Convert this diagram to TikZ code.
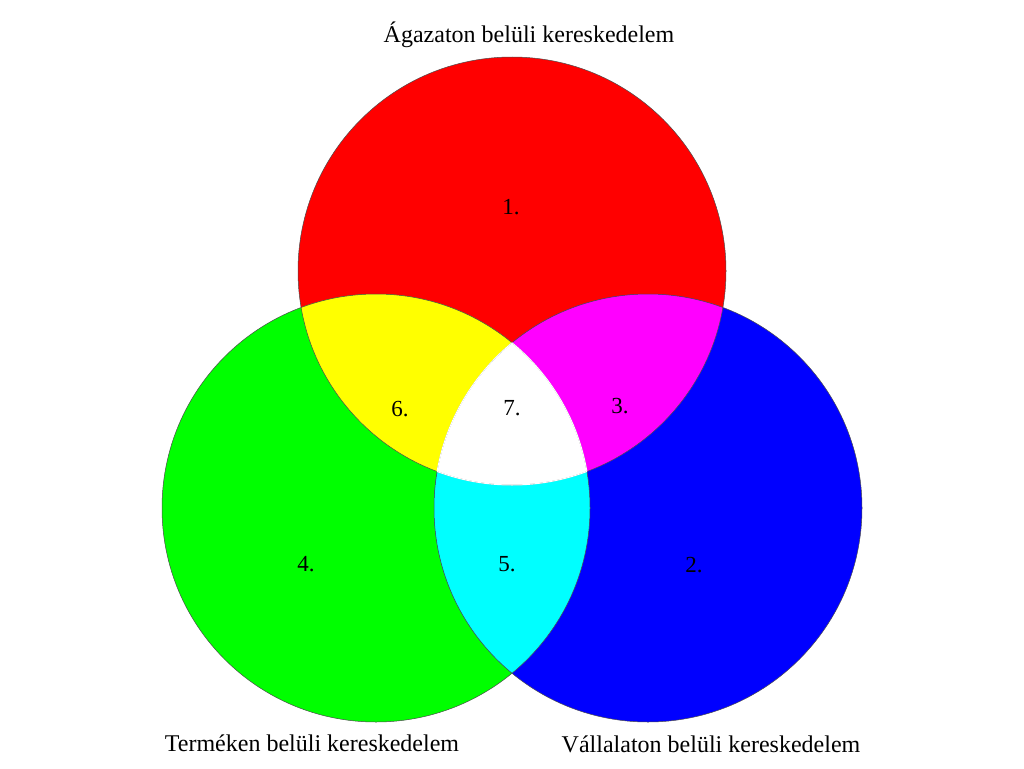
\documentclass[tikz,border=0pt]{standalone}
\usepackage{fontspec}
\setmainfont{Liberation Serif}
\definecolor{cRed}{RGB}{255,0,0}
\definecolor{cGreen}{RGB}{0,255,0}
\definecolor{cBlue}{RGB}{0,0,255}
\definecolor{cYellow}{RGB}{255,255,0}
\definecolor{cMagenta}{RGB}{255,0,255}
\definecolor{cCyan}{RGB}{0,255,255}
\begin{document}
\begin{tikzpicture}[x=1pt,y=-1pt,
  lbl/.style={inner sep=0pt,font=\fontsize{24}{28}\selectfont},
  num/.style={inner sep=0pt,font=\fontsize{23}{27}\selectfont},
  edge/.style={draw=black!70,line width=0.5pt}]
\useasboundingbox (0,0) rectangle (1024,768);
\def\R{214}
\coordinate (cr) at (512,271);
\coordinate (cg) at (376,508);
\coordinate (cb) at (648,508);
\fill[cRed] (cr) circle[radius=\R];
\fill[cGreen] (cg) circle[radius=\R];
\fill[cBlue] (cb) circle[radius=\R];
\begin{scope}
  \clip (cr) circle[radius=\R];
  \fill[cYellow] (cg) circle[radius=\R];
  \fill[cMagenta] (cb) circle[radius=\R];
\end{scope}
\begin{scope}
  \clip (cg) circle[radius=\R];
  \fill[cCyan] (cb) circle[radius=\R];
\end{scope}
\begin{scope}
  \clip (cr) circle[radius=\R];
  \clip (cg) circle[radius=\R];
  \fill[white] (cb) circle[radius=\R];
\end{scope}
\begin{scope}
  \clip (0,0) rectangle (1024,768);
  \draw[edge] (cr) circle[radius=\R];
  \draw[edge] (cg) circle[radius=\R];
  \draw[edge] (cb) circle[radius=\R];
\end{scope}
\begin{scope}
  \clip (cr) circle[radius=\R];
  \clip (cg) circle[radius=\R];
  \draw[white,line width=1pt] (cb) circle[radius=\R];
\end{scope}
\begin{scope}
  \clip (cr) circle[radius=\R];
  \clip (cb) circle[radius=\R];
  \draw[white,line width=1pt] (cg) circle[radius=\R];
\end{scope}
\begin{scope}
  \clip (cg) circle[radius=\R];
  \clip (cb) circle[radius=\R];
  \draw[white,line width=1pt] (cr) circle[radius=\R];
\end{scope}
\node[lbl] (t1) at (529,35) {Ágazaton belüli kereskedelem};
\node[lbl] (t2) at (312,743) {Terméken belüli kereskedelem};
\node[lbl] (t3) at (711,744) {Vállalaton belüli kereskedelem};
\node[num] (n1) at (511,207) {1.};
\node[num] (n6) at (400,409) {6.};
\node[num] (n7) at (512,408) {7.};
\node[num] (n3) at (620,406) {3.};
\node[num] (n4) at (306,564) {4.};
\node[num] (n5) at (507,564) {5.};
\node[num] (n2) at (694,565) {2.};
\end{tikzpicture}
\end{document}
